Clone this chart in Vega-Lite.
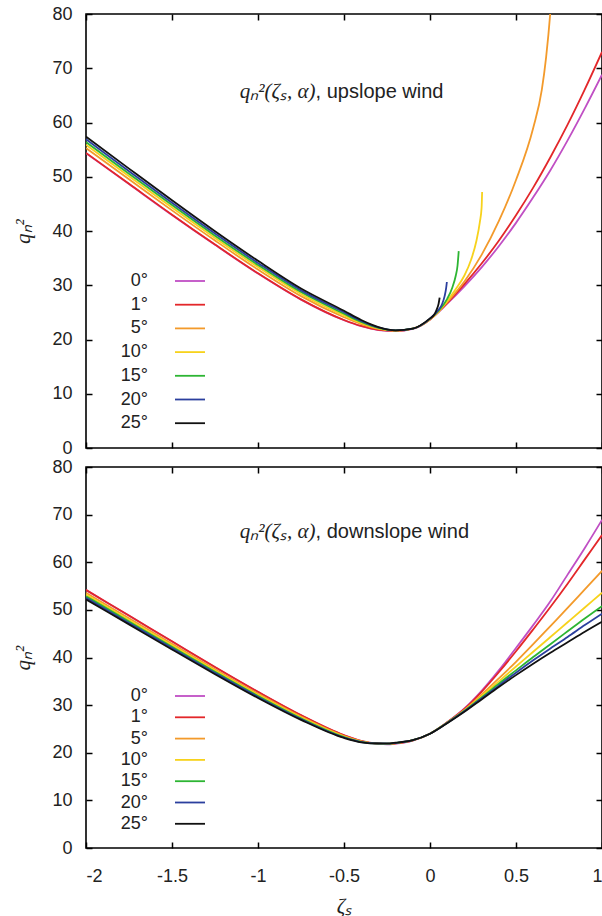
{
  "$schema": "https://vega.github.io/schema/vega-lite/v6.json",
  "padding": {"left": 12, "top": 4, "right": 1, "bottom": 0},
  "background": "white",
  "config": {
    "view": {"stroke": "#000", "strokeWidth": 1.6},
    "font": "Liberation Sans",
    "axis": {"labelFont": "Liberation Sans", "labelFontSize": 18, "labelColor": "#222", "tickColor": "#000", "tickWidth": 1.5, "titleFont": "Liberation Serif", "titleFontStyle": "italic", "titleFontWeight": "normal", "titleFontSize": 21, "titleColor": "#222", "grid": false, "domain": false},
    "legend": {"labelFont": "Liberation Sans", "labelFontSize": 18, "labelColor": "#222"}
  },
  "datasets": {
    "up": [
      {"a":"0°","z":-2,"q":54.35},{"a":"0°","z":-1.75,"q":48.65},{"a":"0°","z":-1.5,"q":42.95},{"a":"0°","z":-1.25,"q":37.45},{"a":"0°","z":-1,"q":32.15},{"a":"0°","z":-0.75,"q":27.35},{"a":"0°","z":-0.5,"q":23.55},{"a":"0°","z":-0.4,"q":22.45},{"a":"0°","z":-0.3,"q":21.75},{"a":"0°","z":-0.2,"q":21.55},{"a":"0°","z":-0.1,"q":21.95},{"a":"0°","z":0,"q":23.7},{"a":"0°","z":0.1,"q":26.6},{"a":"0°","z":0.2,"q":29.8},{"a":"0°","z":0.3,"q":33.3},{"a":"0°","z":0.4,"q":37.2},{"a":"0°","z":0.5,"q":41.5},{"a":"0°","z":0.6,"q":46.2},{"a":"0°","z":0.7,"q":51.2},{"a":"0°","z":0.8,"q":56.7},{"a":"0°","z":0.9,"q":62.6},{"a":"0°","z":1,"q":68.8},
      {"a":"1°","z":-2,"q":54.4},{"a":"1°","z":-1.75,"q":48.7},{"a":"1°","z":-1.5,"q":43.0},{"a":"1°","z":-1.25,"q":37.5},{"a":"1°","z":-1,"q":32.2},{"a":"1°","z":-0.75,"q":27.4},{"a":"1°","z":-0.5,"q":23.6},{"a":"1°","z":-0.4,"q":22.5},{"a":"1°","z":-0.3,"q":21.8},{"a":"1°","z":-0.2,"q":21.6},{"a":"1°","z":-0.1,"q":22.0},{"a":"1°","z":0,"q":23.7},{"a":"1°","z":0.05,"q":25.1},{"a":"1°","z":0.1,"q":26.7},{"a":"1°","z":0.2,"q":30.2},{"a":"1°","z":0.3,"q":34.0},{"a":"1°","z":0.4,"q":38.2},{"a":"1°","z":0.5,"q":42.9},{"a":"1°","z":0.6,"q":48.0},{"a":"1°","z":0.7,"q":53.6},{"a":"1°","z":0.8,"q":59.6},{"a":"1°","z":0.9,"q":66.1},{"a":"1°","z":1,"q":73.0},
      {"a":"5°","z":-2,"q":55.3},{"a":"5°","z":-1.75,"q":49.54},{"a":"5°","z":-1.5,"q":43.8},{"a":"5°","z":-1.25,"q":38.24},{"a":"5°","z":-1,"q":32.89},{"a":"5°","z":-0.75,"q":28.0},{"a":"5°","z":-0.5,"q":24.11},{"a":"5°","z":-0.4,"q":22.83},{"a":"5°","z":-0.3,"q":21.95},{"a":"5°","z":-0.2,"q":21.63},{"a":"5°","z":-0.1,"q":22.0},{"a":"5°","z":0,"q":23.7},{"a":"5°","z":0.05,"q":25.15},{"a":"5°","z":0.1,"q":26.9},{"a":"5°","z":0.2,"q":30.7},{"a":"5°","z":0.3,"q":35.6},{"a":"5°","z":0.4,"q":41.8},{"a":"5°","z":0.5,"q":49.4},{"a":"5°","z":0.6,"q":59.0},{"a":"5°","z":0.65,"q":66.0},{"a":"5°","z":0.675,"q":72.0},{"a":"5°","z":0.7,"q":80.5},{"a":"5°","z":0.71,"q":85.0},
      {"a":"10°","z":-2,"q":55.9},{"a":"10°","z":-1.75,"q":50.1},{"a":"10°","z":-1.5,"q":44.33},{"a":"10°","z":-1.25,"q":38.73},{"a":"10°","z":-1,"q":33.35},{"a":"10°","z":-0.75,"q":28.4},{"a":"10°","z":-0.5,"q":24.45},{"a":"10°","z":-0.4,"q":23.05},{"a":"10°","z":-0.3,"q":22.05},{"a":"10°","z":-0.2,"q":21.65},{"a":"10°","z":-0.1,"q":22.0},{"a":"10°","z":0,"q":23.75},{"a":"10°","z":0.05,"q":25.2},{"a":"10°","z":0.1,"q":27.1},{"a":"10°","z":0.15,"q":29.3},{"a":"10°","z":0.2,"q":31.8},{"a":"10°","z":0.24,"q":34.8},{"a":"10°","z":0.27,"q":38.2},{"a":"10°","z":0.29,"q":41.7},{"a":"10°","z":0.3,"q":44.3},{"a":"10°","z":0.303,"q":47.2},
      {"a":"15°","z":-2,"q":56.4},{"a":"15°","z":-1.75,"q":50.57},{"a":"15°","z":-1.5,"q":44.78},{"a":"15°","z":-1.25,"q":39.14},{"a":"15°","z":-1,"q":33.74},{"a":"15°","z":-0.75,"q":28.74},{"a":"15°","z":-0.5,"q":24.74},{"a":"15°","z":-0.4,"q":23.24},{"a":"15°","z":-0.3,"q":22.13},{"a":"15°","z":-0.2,"q":21.67},{"a":"15°","z":-0.1,"q":22.0},{"a":"15°","z":0,"q":23.8},{"a":"15°","z":0.05,"q":25.3},{"a":"15°","z":0.1,"q":27.5},{"a":"15°","z":0.13,"q":29.6},{"a":"15°","z":0.15,"q":31.8},{"a":"15°","z":0.16,"q":33.6},{"a":"15°","z":0.167,"q":36.3},
      {"a":"20°","z":-2,"q":56.9},{"a":"20°","z":-1.75,"q":51.03},{"a":"20°","z":-1.5,"q":45.2},{"a":"20°","z":-1.25,"q":39.53},{"a":"20°","z":-1,"q":34.11},{"a":"20°","z":-0.75,"q":29.06},{"a":"20°","z":-0.5,"q":25.01},{"a":"20°","z":-0.4,"q":23.41},{"a":"20°","z":-0.3,"q":22.22},{"a":"20°","z":-0.2,"q":21.68},{"a":"20°","z":-0.1,"q":22.0},{"a":"20°","z":0,"q":23.85},{"a":"20°","z":0.05,"q":25.5},{"a":"20°","z":0.07,"q":26.5},{"a":"20°","z":0.085,"q":28.0},{"a":"20°","z":0.094,"q":29.5},{"a":"20°","z":0.098,"q":30.6},
      {"a":"25°","z":-2,"q":57.4},{"a":"25°","z":-1.75,"q":51.5},{"a":"25°","z":-1.5,"q":45.65},{"a":"25°","z":-1.25,"q":39.95},{"a":"25°","z":-1,"q":34.5},{"a":"25°","z":-0.75,"q":29.4},{"a":"25°","z":-0.5,"q":25.3},{"a":"25°","z":-0.4,"q":23.6},{"a":"25°","z":-0.3,"q":22.3},{"a":"25°","z":-0.2,"q":21.7},{"a":"25°","z":-0.1,"q":22.0},{"a":"25°","z":0,"q":23.9},{"a":"25°","z":0.025,"q":24.6},{"a":"25°","z":0.04,"q":25.6},{"a":"25°","z":0.05,"q":26.6},{"a":"25°","z":0.056,"q":27.7}
    ],
    "down": [
      {"a":"0°","z":-2,"q":54.15},{"a":"0°","z":-1.75,"q":48.75},{"a":"0°","z":-1.5,"q":43.35},{"a":"0°","z":-1.25,"q":37.95},{"a":"0°","z":-1,"q":32.75},{"a":"0°","z":-0.75,"q":27.85},{"a":"0°","z":-0.5,"q":23.65},{"a":"0°","z":-0.4,"q":22.45},{"a":"0°","z":-0.3,"q":21.85},{"a":"0°","z":-0.25,"q":21.75},{"a":"0°","z":-0.2,"q":21.9},{"a":"0°","z":-0.1,"q":22.55},{"a":"0°","z":0,"q":24.0},{"a":"0°","z":0.1,"q":26.4},{"a":"0°","z":0.2,"q":29.3},{"a":"0°","z":0.3,"q":33.0},{"a":"0°","z":0.4,"q":37.3},{"a":"0°","z":0.5,"q":42.0},{"a":"0°","z":0.6,"q":46.8},{"a":"0°","z":0.7,"q":51.8},{"a":"0°","z":0.8,"q":57.4},{"a":"0°","z":0.9,"q":63.0},{"a":"0°","z":1,"q":68.9},
      {"a":"1°","z":-2,"q":54.2},{"a":"1°","z":-1.75,"q":48.8},{"a":"1°","z":-1.5,"q":43.4},{"a":"1°","z":-1.25,"q":38.0},{"a":"1°","z":-1,"q":32.8},{"a":"1°","z":-0.75,"q":27.9},{"a":"1°","z":-0.5,"q":23.7},{"a":"1°","z":-0.4,"q":22.5},{"a":"1°","z":-0.3,"q":21.9},{"a":"1°","z":-0.25,"q":21.8},{"a":"1°","z":-0.2,"q":21.95},{"a":"1°","z":-0.1,"q":22.6},{"a":"1°","z":0,"q":24.0},{"a":"1°","z":0.1,"q":26.4},{"a":"1°","z":0.2,"q":29.2},{"a":"1°","z":0.3,"q":32.8},{"a":"1°","z":0.4,"q":36.9},{"a":"1°","z":0.5,"q":41.3},{"a":"1°","z":0.6,"q":45.9},{"a":"1°","z":0.7,"q":50.6},{"a":"1°","z":0.8,"q":55.5},{"a":"1°","z":0.9,"q":60.6},{"a":"1°","z":1,"q":65.7},
      {"a":"5°","z":-2,"q":53.6},{"a":"5°","z":-1.75,"q":48.25},{"a":"5°","z":-1.5,"q":42.9},{"a":"5°","z":-1.25,"q":37.55},{"a":"5°","z":-1,"q":32.4},{"a":"5°","z":-0.75,"q":27.6},{"a":"5°","z":-0.5,"q":23.52},{"a":"5°","z":-0.4,"q":22.41},{"a":"5°","z":-0.3,"q":21.92},{"a":"5°","z":-0.25,"q":21.85},{"a":"5°","z":-0.2,"q":22.0},{"a":"5°","z":-0.1,"q":22.62},{"a":"5°","z":0,"q":24.0},{"a":"5°","z":0.1,"q":26.35},{"a":"5°","z":0.2,"q":29.0},{"a":"5°","z":0.3,"q":32.2},{"a":"5°","z":0.4,"q":35.6},{"a":"5°","z":0.5,"q":39.1},{"a":"5°","z":0.6,"q":42.8},{"a":"5°","z":0.7,"q":46.6},{"a":"5°","z":0.8,"q":50.4},{"a":"5°","z":0.9,"q":54.3},{"a":"5°","z":1,"q":58.2},
      {"a":"10°","z":-2,"q":53.2},{"a":"10°","z":-1.75,"q":47.88},{"a":"10°","z":-1.5,"q":42.55},{"a":"10°","z":-1.25,"q":37.25},{"a":"10°","z":-1,"q":32.15},{"a":"10°","z":-0.75,"q":27.4},{"a":"10°","z":-0.5,"q":23.4},{"a":"10°","z":-0.4,"q":22.35},{"a":"10°","z":-0.3,"q":21.93},{"a":"10°","z":-0.25,"q":21.88},{"a":"10°","z":-0.2,"q":22.03},{"a":"10°","z":-0.1,"q":22.63},{"a":"10°","z":0,"q":24.0},{"a":"10°","z":0.1,"q":26.3},{"a":"10°","z":0.2,"q":28.9},{"a":"10°","z":0.3,"q":31.9},{"a":"10°","z":0.4,"q":35.0},{"a":"10°","z":0.5,"q":38.1},{"a":"10°","z":0.6,"q":41.2},{"a":"10°","z":0.7,"q":44.3},{"a":"10°","z":0.8,"q":47.4},{"a":"10°","z":0.9,"q":50.5},{"a":"10°","z":1,"q":53.6},
      {"a":"15°","z":-2,"q":52.87},{"a":"15°","z":-1.75,"q":47.56},{"a":"15°","z":-1.5,"q":42.26},{"a":"15°","z":-1.25,"q":37.0},{"a":"15°","z":-1,"q":31.93},{"a":"15°","z":-0.75,"q":27.23},{"a":"15°","z":-0.5,"q":23.3},{"a":"15°","z":-0.4,"q":22.3},{"a":"15°","z":-0.3,"q":21.93},{"a":"15°","z":-0.25,"q":21.9},{"a":"15°","z":-0.2,"q":22.05},{"a":"15°","z":-0.1,"q":22.63},{"a":"15°","z":0,"q":24.0},{"a":"15°","z":0.1,"q":26.3},{"a":"15°","z":0.2,"q":28.8},{"a":"15°","z":0.3,"q":31.6},{"a":"15°","z":0.4,"q":34.5},{"a":"15°","z":0.5,"q":37.3},{"a":"15°","z":0.6,"q":40.1},{"a":"15°","z":0.7,"q":42.8},{"a":"15°","z":0.8,"q":45.5},{"a":"15°","z":0.9,"q":48.2},{"a":"15°","z":1,"q":50.8},
      {"a":"20°","z":-2,"q":52.54},{"a":"20°","z":-1.75,"q":47.26},{"a":"20°","z":-1.5,"q":41.99},{"a":"20°","z":-1.25,"q":36.76},{"a":"20°","z":-1,"q":31.72},{"a":"20°","z":-0.75,"q":27.07},{"a":"20°","z":-0.5,"q":23.2},{"a":"20°","z":-0.4,"q":22.25},{"a":"20°","z":-0.3,"q":21.94},{"a":"20°","z":-0.25,"q":21.92},{"a":"20°","z":-0.2,"q":22.07},{"a":"20°","z":-0.1,"q":22.64},{"a":"20°","z":0,"q":24.0},{"a":"20°","z":0.1,"q":26.25},{"a":"20°","z":0.2,"q":28.7},{"a":"20°","z":0.3,"q":31.4},{"a":"20°","z":0.4,"q":34.1},{"a":"20°","z":0.5,"q":36.8},{"a":"20°","z":0.6,"q":39.4},{"a":"20°","z":0.7,"q":41.9},{"a":"20°","z":0.8,"q":44.3},{"a":"20°","z":0.9,"q":46.8},{"a":"20°","z":1,"q":49.2},
      {"a":"25°","z":-2,"q":52.2},{"a":"25°","z":-1.75,"q":46.95},{"a":"25°","z":-1.5,"q":41.7},{"a":"25°","z":-1.25,"q":36.5},{"a":"25°","z":-1,"q":31.5},{"a":"25°","z":-0.75,"q":26.9},{"a":"25°","z":-0.5,"q":23.1},{"a":"25°","z":-0.4,"q":22.2},{"a":"25°","z":-0.3,"q":21.95},{"a":"25°","z":-0.25,"q":21.95},{"a":"25°","z":-0.2,"q":22.1},{"a":"25°","z":-0.1,"q":22.65},{"a":"25°","z":0,"q":24.0},{"a":"25°","z":0.1,"q":26.2},{"a":"25°","z":0.2,"q":28.6},{"a":"25°","z":0.3,"q":31.2},{"a":"25°","z":0.4,"q":33.8},{"a":"25°","z":0.5,"q":36.3},{"a":"25°","z":0.6,"q":38.7},{"a":"25°","z":0.7,"q":41.0},{"a":"25°","z":0.8,"q":43.2},{"a":"25°","z":0.9,"q":45.4},{"a":"25°","z":1,"q":47.5}
    ]
  },
  "spacing": 19,
  "bounds": "flush",
  "resolve": {"scale": {"color": "independent"}, "legend": {"color": "independent"}},
  "vconcat": [
    {
      "width": 516, "height": 434,
      "resolve": {"axis": {"x": "independent", "y": "independent"}},
      "layer": [
        {
          "data": {"name": "up"},
          "mark": {"type": "line", "clip": true, "strokeWidth": 1.8, "interpolate": "monotone"},
          "encoding": {
            "x": {"field": "z", "type": "quantitative", "scale": {"domain": [-2, 1], "nice": false, "zero": false}, "axis": {"orient": "bottom", "labels": false, "title": null, "values": [-2, -1.5, -1, -0.5, 0, 0.5, 1], "tickSize": -6}},
            "y": {"field": "q", "type": "quantitative", "scale": {"domain": [0, 80], "nice": false}, "axis": {"orient": "left", "values": [0, 10, 20, 30, 40, 50, 60, 70, 80], "tickSize": -6, "labelPadding": 20, "title": "qₙ²", "titlePadding": 18}},
            "color": {"field": "a", "type": "nominal", "scale": {"domain": ["0°", "1°", "5°", "10°", "15°", "20°", "25°"], "range": ["#c04fc4", "#e3272a", "#f39a2b", "#f7d21c", "#2db533", "#2b3f9e", "#111111"]},
              "legend": {"orient": "none", "legendX": 93, "legendY": 256, "title": null, "symbolType": "M-1.5,0L1.5,0", "symbolSize": 400, "symbolStrokeWidth": 1.8, "symbolFillColor": "transparent", "labelAlign": "right", "labelOffset": -53, "rowPadding": 3.7, "padding": 0, "labelLimit": 0}}
          }
        },
        {
          "data": {"values": [{}]},
          "mark": {"type": "text", "align": "right", "baseline": "middle", "font": "Liberation Serif", "fontStyle": "italic", "fontSize": 21, "color": "#222"},
          "encoding": {
            "x": {"datum": -0.665, "type": "quantitative", "axis": {"orient": "top", "labels": false, "title": null, "values": [-2, -1.5, -1, -0.5, 0, 0.5, 1], "tickSize": -6}},
            "y": {"datum": 65.6, "type": "quantitative", "axis": {"orient": "right", "labels": false, "title": null, "values": [0, 10, 20, 30, 40, 50, 60, 70, 80], "tickSize": -6}},
            "text": {"value": "qₙ²(ζₛ, α)"}
          }
        },
        {
          "data": {"values": [{}]},
          "mark": {"type": "text", "align": "left", "baseline": "middle", "font": "Liberation Sans", "fontSize": 20, "color": "#222"},
          "encoding": {
            "x": {"datum": -0.665, "type": "quantitative", "axis": null},
            "y": {"datum": 65.6, "type": "quantitative", "axis": null},
            "text": {"value": ", upslope wind"}
          }
        }
      ]
    },
    {
      "width": 516, "height": 381,
      "resolve": {"axis": {"x": "independent", "y": "independent"}},
      "layer": [
        {
          "data": {"name": "down"},
          "mark": {"type": "line", "clip": true, "strokeWidth": 1.8, "interpolate": "monotone"},
          "encoding": {
            "x": {"field": "z", "type": "quantitative", "scale": {"domain": [-2, 1], "nice": false, "zero": false}, "axis": {"orient": "bottom", "values": [-2, -1.5, -1, -0.5, 0, 0.5, 1], "tickSize": -6, "labelPadding": 25, "labelExpr": "datum.value < 0 ? '-' + format(-datum.value, '~g') : format(datum.value, '~g')", "title": "ζₛ", "titlePadding": 10}},
            "y": {"field": "q", "type": "quantitative", "scale": {"domain": [0, 80], "nice": false}, "axis": {"orient": "left", "values": [0, 10, 20, 30, 40, 50, 60, 70, 80], "tickSize": -6, "labelPadding": 20, "title": "qₙ²", "titlePadding": 18}},
            "color": {"field": "a", "type": "nominal", "scale": {"domain": ["0°", "1°", "5°", "10°", "15°", "20°", "25°"], "range": ["#c04fc4", "#e3272a", "#f39a2b", "#f7d21c", "#2db533", "#2b3f9e", "#111111"]},
              "legend": {"orient": "none", "legendX": 93, "legendY": 218, "title": null, "symbolType": "M-1.5,0L1.5,0", "symbolSize": 400, "symbolStrokeWidth": 1.8, "symbolFillColor": "transparent", "labelAlign": "right", "labelOffset": -53, "rowPadding": 1.3, "padding": 0, "labelLimit": 0}}
          }
        },
        {
          "data": {"values": [{}]},
          "mark": {"type": "text", "align": "right", "baseline": "middle", "font": "Liberation Serif", "fontStyle": "italic", "fontSize": 21, "color": "#222"},
          "encoding": {
            "x": {"datum": -0.665, "type": "quantitative", "axis": {"orient": "top", "labels": false, "title": null, "values": [-2, -1.5, -1, -0.5, 0, 0.5, 1], "tickSize": -6}},
            "y": {"datum": 66.4, "type": "quantitative", "axis": {"orient": "right", "labels": false, "title": null, "values": [0, 10, 20, 30, 40, 50, 60, 70, 80], "tickSize": -6}},
            "text": {"value": "qₙ²(ζₛ, α)"}
          }
        },
        {
          "data": {"values": [{}]},
          "mark": {"type": "text", "align": "left", "baseline": "middle", "font": "Liberation Sans", "fontSize": 20, "color": "#222"},
          "encoding": {
            "x": {"datum": -0.665, "type": "quantitative", "axis": null},
            "y": {"datum": 66.4, "type": "quantitative", "axis": null},
            "text": {"value": ", downslope wind"}
          }
        }
      ]
    }
  ]
}
